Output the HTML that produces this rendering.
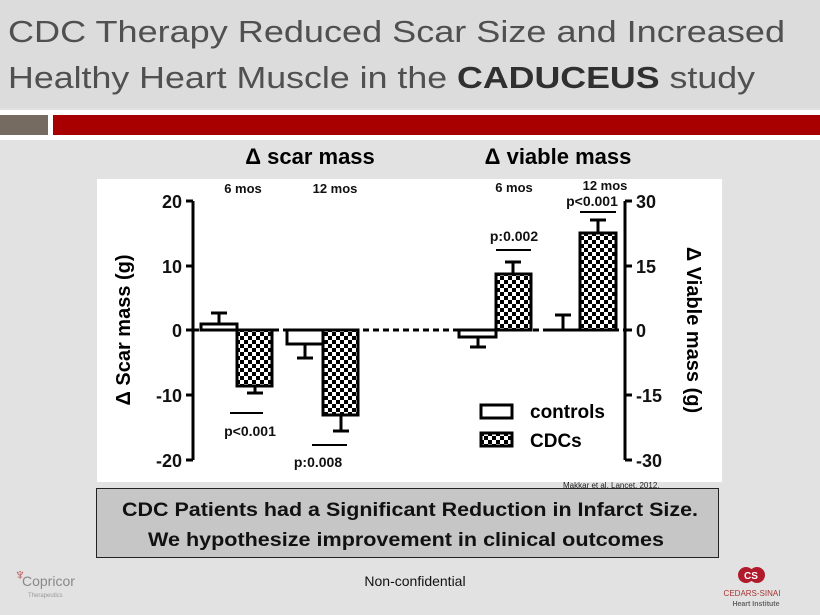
<!DOCTYPE html>
<html><head><meta charset="utf-8"><style>
html,body{margin:0;padding:0;background:#e2e2e2;}
svg{display:block;}
</style></head><body>
<svg width="820" height="615" xmlns="http://www.w3.org/2000/svg" font-family="Liberation Sans, sans-serif">
<defs>
<pattern id="chk" width="8" height="8" patternUnits="userSpaceOnUse">
<rect width="8" height="8" fill="#fff"/><rect width="4" height="4" fill="#000"/><rect x="4" y="4" width="4" height="4" fill="#000"/>
</pattern>
</defs>
<rect width="820" height="615" fill="#e2e2e2"/>
<rect x="0" y="0" width="820" height="108" fill="#dcdcdc"/>
<text x="8" y="42" font-size="31" fill="#505050" textLength="777" lengthAdjust="spacingAndGlyphs">CDC Therapy Reduced Scar Size and Increased</text>
<text x="8" y="88" font-size="31" fill="#505050" textLength="747" lengthAdjust="spacingAndGlyphs">Healthy Heart Muscle in the <tspan font-weight="bold" fill="#303030">CADUCEUS</tspan> study</text>
<rect x="0" y="110" width="820" height="30" fill="#fff"/>
<rect x="0" y="115" width="48" height="20" fill="#766b61"/>
<rect x="53" y="115" width="767" height="20" fill="#a80000"/>
<rect x="0" y="140" width="820" height="2" fill="#e2e2e2"/>
<text x="310" y="164" font-size="22" font-weight="bold" text-anchor="middle">Δ scar mass</text>
<text x="558" y="164" font-size="22" font-weight="bold" text-anchor="middle">Δ viable mass</text>
<rect x="97" y="179" width="625" height="303" fill="#fff"/>
<g font-size="13" font-weight="bold" text-anchor="middle" fill="#111">
<text x="243" y="193">6 mos</text><text x="335" y="193">12 mos</text>
<text x="514" y="192">6 mos</text><text x="605" y="190">12 mos</text>
</g>
<g stroke="#000" stroke-width="3">
<line x1="193" y1="201" x2="193" y2="460"/>
<line x1="186" y1="201" x2="193" y2="201"/><line x1="186" y1="266" x2="193" y2="266"/>
<line x1="186" y1="330" x2="193" y2="330"/><line x1="186" y1="395" x2="193" y2="395"/><line x1="186" y1="460" x2="193" y2="460"/>
<line x1="625" y1="201" x2="625" y2="460"/>
<line x1="625" y1="201" x2="632" y2="201"/><line x1="625" y1="266" x2="632" y2="266"/>
<line x1="625" y1="330" x2="632" y2="330"/><line x1="625" y1="395" x2="632" y2="395"/><line x1="625" y1="460" x2="632" y2="460"/>
<line x1="193" y1="330" x2="625" y2="330" stroke-dasharray="6,4"/>
</g>
<g font-size="18" font-weight="bold" fill="#111">
<g text-anchor="end"><text x="182" y="208">20</text><text x="182" y="273">10</text><text x="182" y="337">0</text><text x="182" y="402">-10</text><text x="182" y="467">-20</text></g>
<text x="636" y="208">30</text><text x="636" y="273">15</text><text x="636" y="337">0</text><text x="636" y="402">-15</text><text x="636" y="467">-30</text>
</g>
<text transform="translate(130,330) rotate(-90)" font-size="20" font-weight="bold" text-anchor="middle">Δ Scar mass  (g)</text>
<text transform="translate(687,330) rotate(90)" font-size="20" font-weight="bold" text-anchor="middle">Δ Viable mass  (g)</text>
<g stroke="#000" stroke-width="3">
<line x1="219" y1="324" x2="219" y2="313"/><line x1="211" y1="313" x2="227" y2="313"/>
<rect x="201" y="324" width="36" height="6" fill="#fff"/>
<line x1="255" y1="386" x2="255" y2="393"/><line x1="247" y1="393" x2="263" y2="393"/>
<rect x="237" y="330" width="35" height="56" fill="url(#chk)"/>
<line x1="305" y1="344" x2="305" y2="358"/><line x1="297" y1="358" x2="313" y2="358"/>
<rect x="287" y="330" width="36" height="14" fill="#fff"/>
<line x1="341" y1="415" x2="341" y2="431"/><line x1="333" y1="431" x2="349" y2="431"/>
<rect x="323" y="330" width="35" height="85" fill="url(#chk)"/>
<line x1="478" y1="337" x2="478" y2="347"/><line x1="470" y1="347" x2="486" y2="347"/>
<rect x="459" y="330" width="37" height="7" fill="#fff"/>
<line x1="513" y1="274" x2="513" y2="262"/><line x1="505" y1="262" x2="521" y2="262"/>
<rect x="496" y="274" width="35" height="56" fill="url(#chk)"/>
<line x1="563" y1="330" x2="563" y2="315"/><line x1="555" y1="315" x2="571" y2="315"/>
<line x1="546" y1="330" x2="580" y2="330"/>
<line x1="598" y1="233" x2="598" y2="220"/><line x1="590" y1="220" x2="606" y2="220"/>
<rect x="580" y="233" width="36" height="97" fill="url(#chk)"/>
<line x1="230" y1="413" x2="263" y2="413" stroke-width="2"/>
<line x1="312" y1="445" x2="347" y2="445" stroke-width="2"/>
<line x1="496" y1="250" x2="531" y2="250" stroke-width="2"/>
<line x1="580" y1="212" x2="616" y2="212" stroke-width="2"/>
<rect x="481" y="405" width="31" height="13" fill="#fff"/>
<rect x="481" y="433" width="31" height="13" fill="url(#chk)"/>
</g>
<g font-size="14" font-weight="bold" text-anchor="middle" fill="#111">
<text x="250" y="436">p&lt;0.001</text><text x="318" y="467">p:0.008</text>
<text x="514" y="241">p:0.002</text><text x="592" y="206">p&lt;0.001</text>
</g>
<text x="530" y="418" font-size="19" font-weight="bold">controls</text>
<text x="530" y="447" font-size="19" font-weight="bold">CDCs</text>
<text x="563" y="488" font-size="8" fill="#222">Makkar et al, Lancet, 2012.</text>
<rect x="96.5" y="488.5" width="622" height="69" fill="#c6c6c6" stroke="#222" stroke-width="1"/>
<g font-size="19" font-weight="bold" fill="#111">
<text x="122" y="516" textLength="576" lengthAdjust="spacingAndGlyphs">CDC Patients had a Significant Reduction in Infarct Size.</text>
<text x="148" y="546" textLength="516" lengthAdjust="spacingAndGlyphs">We hypothesize improvement in clinical outcomes</text>
</g>
<text x="415" y="586" font-size="14" text-anchor="middle" fill="#111">Non-confidential</text>
<text x="22" y="586" font-size="14" fill="#888">Copricor</text>
<text x="14" y="580" font-size="16" fill="#b34040">♆</text>
<text x="28" y="597" font-size="6" fill="#999">Therapeutics</text>
<circle cx="746" cy="575" r="8" fill="#b01a2a"/><circle cx="757" cy="575" r="8" fill="#b01a2a"/>
<text x="751" y="579" font-size="10" fill="#fff" text-anchor="middle" font-weight="bold">CS</text>
<text x="752" y="596" font-size="8" fill="#a33" text-anchor="middle">CEDARS-SINAI</text>
<text x="756" y="606" font-size="7" font-weight="bold" fill="#666" text-anchor="middle">Heart Institute</text>
</svg>
</body></html>
